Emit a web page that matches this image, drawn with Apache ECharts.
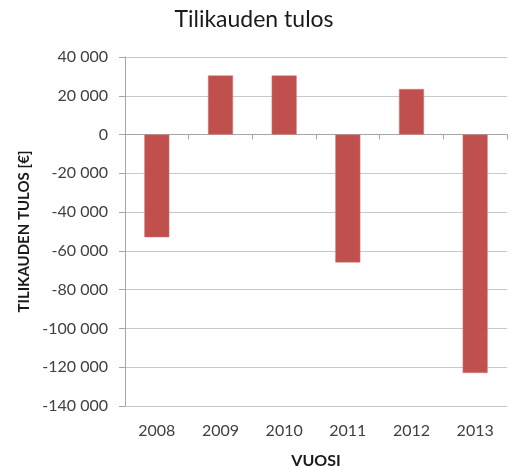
<!DOCTYPE html>
<html>
<head>
<meta charset="utf-8">
<script src="https://cdn.jsdelivr.net/npm/echarts@6/dist/echarts.min.js"></script>
<style>
  html, body { margin: 0; padding: 0; background: #fff; }
  #chart { width: 508px; height: 468px; }
</style>
</head>
<body>
<div id="chart"></div>
<script>
// Chart data
const years = ['2008', '2009', '2010', '2011', '2012', '2013']
const tulos = [-53000, 30500, 30500, -66000, 23500, -123000]

const chart = echarts.init(document.getElementById('chart'))

// Thousands with a space, like Finnish Excel
const fmt = v => {
  const s = Math.abs(v).toString().replace(/\B(?=(\d{3})+(?!\d))/g, ' ')
  return (v < 0 ? '-' : '') + s
}

const font = 'Lato, "Open Sans", sans-serif'

const options = {
  animation: false,
  title: {
    text: 'Tilikauden tulos',
    left: 'center',
    top: 3,
    textStyle: { fontFamily: font, fontSize: 23, fontWeight: 'normal', color: '#1a1a1a' }
  },
  grid: { left: 125, right: 1, top: 57, bottom: 62, outerBoundsMode: 'none' },
  xAxis: [
    {
      // bottom labels only
      type: 'category',
      data: years,
      position: 'bottom',
      axisLine: { show: false, onZero: false },
      axisTick: { show: false },
      axisLabel: { fontFamily: font, fontSize: 16, color: '#404040', margin: 17 },
      name: 'VUOSI',
      nameLocation: 'middle',
      nameGap: 47,
      nameTextStyle: { fontFamily: font, fontSize: 16, fontWeight: 'bold', color: '#1a1a1a' }
    },
    {
      // axis line sitting on zero
      type: 'category',
      data: years,
      position: 'bottom',
      axisLine: { show: true, onZero: true, lineStyle: { color: '#a6a6a6' } },
      axisTick: { show: true, length: 5, lineStyle: { color: '#a6a6a6' } },
      axisLabel: { show: false }
    }
  ],
  yAxis: {
    type: 'value',
    min: -140000,
    max: 40000,
    interval: 20000,
    axisLine: { show: true, lineStyle: { color: '#a6a6a6' } },
    axisTick: { show: true, length: 6, lineStyle: { color: '#a6a6a6' } },
    splitLine: { lineStyle: { color: '#c8c8c8' } },
    axisLabel: { fontFamily: font, fontSize: 16, color: '#404040', margin: 17, formatter: fmt },
    name: 'TILIKAUDEN TULOS [€]',
    nameLocation: 'middle',
    nameGap: 91,
    nameTextStyle: { fontFamily: font, fontSize: 15, fontWeight: 'bold', color: '#1a1a1a' }
  },
  series: [
    {
      name: 'Tilikauden tulos',
      type: 'bar',
      data: tulos,
      barWidth: 25,
      itemStyle: { color: '#c0504d', borderColor: '#d47b78', borderWidth: 0.5 }
    }
  ]
}
chart.setOption(options)
</script>
</body>
</html>
